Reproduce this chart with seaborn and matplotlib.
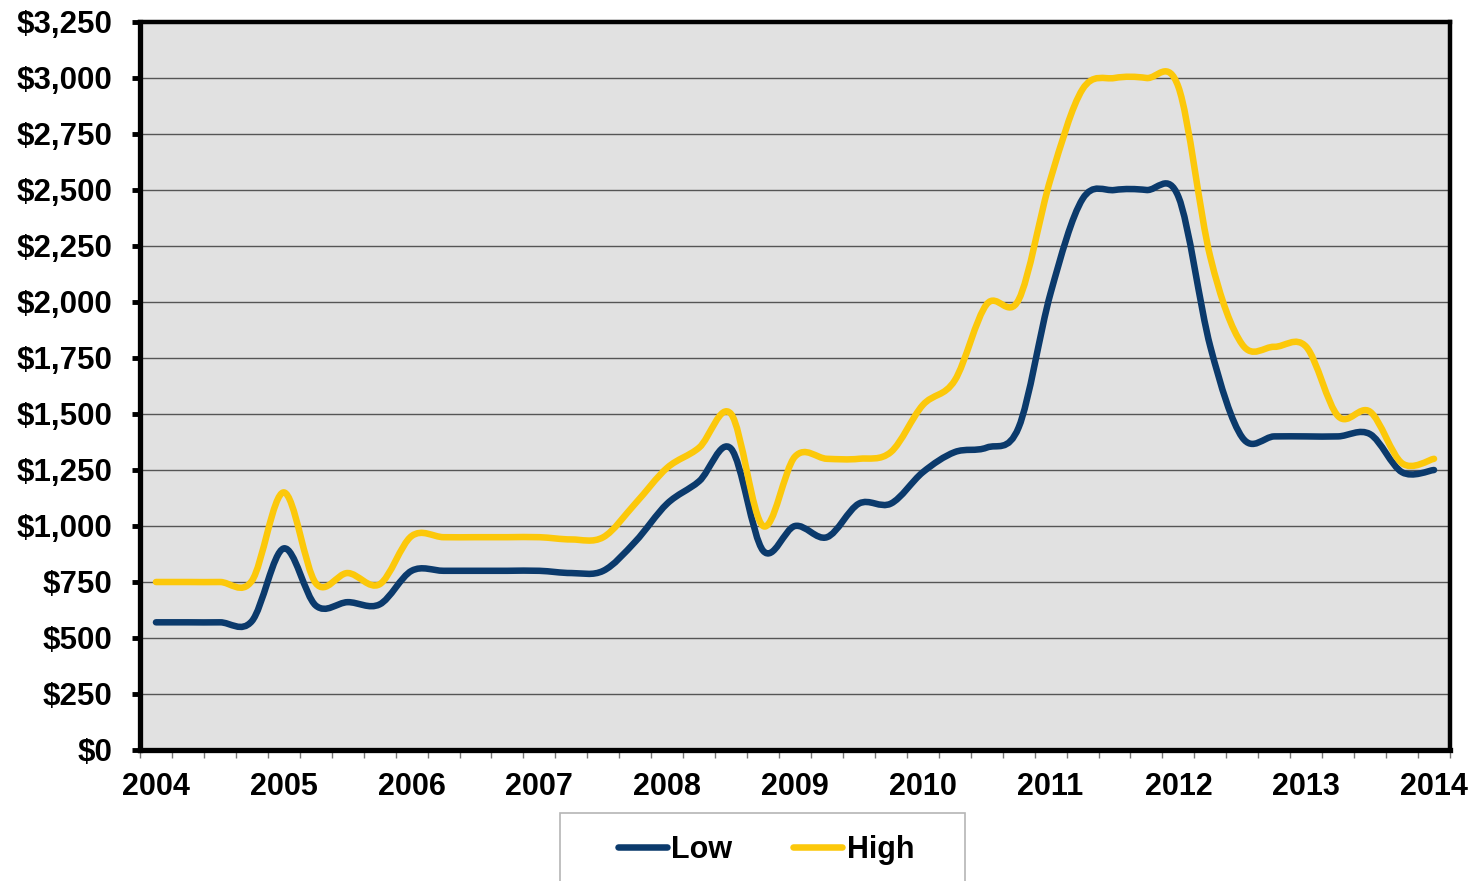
import matplotlib
matplotlib.use('Agg')
import matplotlib.pyplot as plt
import seaborn as sns
import pandas as pd
import numpy as np
from matplotlib.ticker import MultipleLocator, FuncFormatter
from matplotlib.patches import Rectangle, PathPatch
from matplotlib.path import Path
from matplotlib.lines import Line2D

# ---- data (quarterly, 2004 Q1 .. 2014 Q1) ----
years = ['2004', '2005', '2006', '2007', '2008', '2009', '2010', '2011', '2012', '2013', '2014']
low = [570, 570, 570, 575, 900, 645, 660, 650,
       800, 800, 800, 800, 800, 790, 800, 930,
       1100, 1200, 1345, 890, 1000, 950, 1100, 1100,
       1240, 1330, 1350, 1440, 2040, 2460, 2500, 2500,
       2470, 1800, 1395, 1400, 1400, 1400, 1410, 1240,
       1250]
high = [750, 750, 750, 755, 1150, 745, 790, 740,
        955, 950, 950, 950, 950, 940, 950, 1100,
        1260, 1350, 1500, 1000, 1310, 1300, 1300, 1330,
        1540, 1650, 1990, 2010, 2550, 2950, 3000, 3000,
        2960, 2200, 1810, 1800, 1800, 1490, 1510, 1280,
        1300]
series_names = ['Low', 'High']

NAVY = '#0b3a6c'
GOLD = '#fcc80a'
LW = 4.7

n = len(low)
df = pd.DataFrame({
    'q': list(range(n)) * 2,
    'price': low + high,
    'series': [series_names[0]] * n + [series_names[1]] * n,
})

sns.set_theme(style='white')
plt.rcParams['font.family'] = ['Liberation Sans', 'DejaVu Sans']

W, H = 1474, 881
fig = plt.figure(figsize=(W / 100, H / 100), dpi=100)
fig.patch.set_facecolor('white')
ax = fig.add_axes([140 / W, 1 - 750 / H, 1310 / W, 728 / H])
ax.set_facecolor('#e1e1e1')

sns.lineplot(data=df, x='q', y='price', hue='series', hue_order=series_names,
             palette=[NAVY, GOLD], linewidth=LW, legend=False, ax=ax)


def smooth_path(xs, ys):
    """Excel-style smoothed line: cubic Bezier segments through the data points."""
    xs = np.asarray(xs, float)
    ys = np.asarray(ys, float)
    m = len(xs)
    verts = [(xs[0], ys[0])]
    codes = [Path.MOVETO]
    for i in range(m - 1):
        i0 = max(i - 1, 0)
        i3 = min(i + 2, m - 1)
        c1 = (xs[i] + (xs[i + 1] - xs[i0]) / 6, ys[i] + (ys[i + 1] - ys[i0]) / 6)
        c2 = (xs[i + 1] - (xs[i3] - xs[i]) / 6, ys[i + 1] - (ys[i3] - ys[i]) / 6)
        verts += [c1, c2, (xs[i + 1], ys[i + 1])]
        codes += [Path.CURVE4] * 3
    return Path(verts, codes)


# Render the seaborn lines as smoothed curves (same data, same colours)
for line in list(ax.lines):
    xd, yd = line.get_xdata(), line.get_ydata()
    patch = PathPatch(smooth_path(xd, yd), fill=False, edgecolor=line.get_color(),
                      linewidth=LW, capstyle='round', joinstyle='round', zorder=3)
    ax.add_patch(patch)
    line.remove()

ax.set_xlim(-0.5, n - 0.5)
ax.set_ylim(0, 3250)
ax.set_xlabel('')
ax.set_ylabel('')

ax.yaxis.set_major_locator(MultipleLocator(250))
ax.yaxis.set_major_formatter(FuncFormatter(lambda v, p: f'${v:,.0f}'))
ax.grid(axis='y', color='#555555', linewidth=1.0)
ax.grid(axis='x', visible=False)
ax.set_axisbelow(True)

ax.set_xticks(range(0, n, 4))
ax.set_xticklabels(years)
ax.set_xticks([k - 0.5 for k in range(n + 1)], minor=True)
ax.tick_params(axis='x', which='major', length=0, pad=16, labelsize=22, bottom=True)
ax.tick_params(axis='x', which='minor', length=6, width=1.0, color='#777777',
               direction='out', bottom=True)
ax.tick_params(axis='y', which='major', length=6, width=3.5, color='black',
               pad=14, labelsize=22.5, left=True, direction='out')
for lbl in ax.get_xticklabels() + ax.get_yticklabels():
    lbl.set_fontweight('bold')
    lbl.set_color('black')

for side in ['left', 'bottom', 'top', 'right']:
    ax.spines[side].set_visible(True)
    ax.spines[side].set_color('black')
    ax.spines[side].set_linewidth(3.2)
ax.spines['left'].set_linewidth(3.8)
ax.spines['bottom'].set_linewidth(3.8)

handles = [Line2D([], [], color=NAVY, lw=LW, solid_capstyle='round'),
           Line2D([], [], color=GOLD, lw=LW, solid_capstyle='round')]
leg = fig.legend(handles, series_names, loc='center', bbox_to_anchor=(766 / W, 1 - 850 / H),
                 ncol=2, frameon=False, handlelength=1.6, handletextpad=0.15,
                 columnspacing=2.0, prop={'weight': 'bold', 'size': 22})
for t in leg.get_texts():
    t.set_color('black')
fig.add_artist(Rectangle((560 / W, -0.02), 405 / W, (H - 813) / H + 0.02,
                         transform=fig.transFigure, fill=False,
                         edgecolor='#b5b5b5', linewidth=1.2))

fig.savefig('out.png', dpi=100)
